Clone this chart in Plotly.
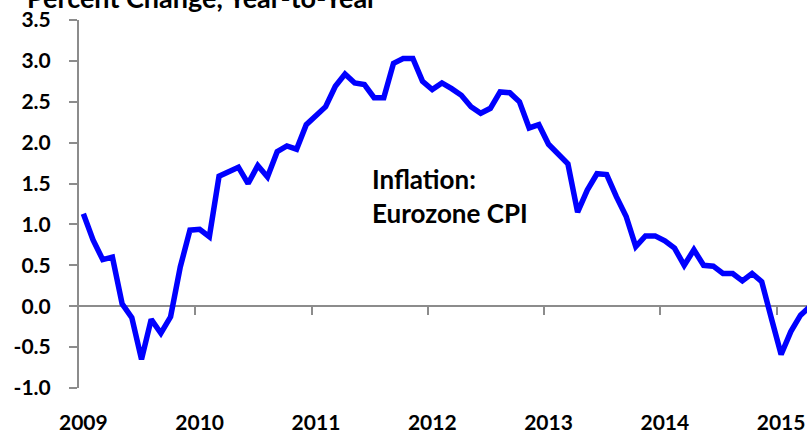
import plotly.graph_objects as go

# Eurozone CPI inflation, percent change year-to-year, monthly from Jan 2009
start_year = 2009
cpi_values = [
    1.13, 0.81, 0.57, 0.60, 0.03, -0.14, -0.65, -0.16, -0.33, -0.13, 0.48, 0.93,
    0.94, 0.85, 1.59, 1.64, 1.70, 1.50, 1.72, 1.58, 1.89, 1.96, 1.92, 2.22,
    2.33, 2.44, 2.69, 2.84, 2.73, 2.71, 2.55, 2.55, 2.97, 3.03, 3.03, 2.75,
    2.65, 2.73, 2.66, 2.58, 2.44, 2.36, 2.42, 2.62, 2.61, 2.50, 2.18, 2.22,
    1.98, 1.85, 1.74, 1.15, 1.42, 1.62, 1.61, 1.34, 1.10, 0.73, 0.86, 0.86,
    0.80, 0.71, 0.50, 0.69, 0.50, 0.49, 0.40, 0.40, 0.31, 0.40, 0.30, -0.15,
    -0.59, -0.31, -0.11, 0.0,
]
year_labels = ["2009", "2010", "2011", "2012", "2013", "2014", "2015"]
y_tick_values = [-1.0, -0.5, 0.0, 0.5, 1.0, 1.5, 2.0, 2.5, 3.0, 3.5]
y_tick_labels = ["-1.0", "-0.5", "0.0", "0.5", "1.0", "1.5", "2.0", "2.5", "3.0", "3.5"]
title_text = "Percent Change, Year-to-Year"
annotation_text = "Inflation:<br>Eurozone CPI"

mid = 0.45 / 12.0
x_dates = [start_year + mid + i / 12.0 for i in range(len(cpi_values))]
year_ticks = [start_year + k for k in range(1, len(year_labels))]
label_pos = [start_year + mid + k for k in range(len(year_labels))]

AXIS_GRAY = "#8c8c8c"
FONT = dict(family="Lato", size=21, color="black", weight="bold")
x_range = [2009.0, 2015.26]

fig = go.Figure()
fig.add_trace(go.Scatter(
    x=x_dates, y=cpi_values, mode="lines",
    line=dict(color="#0000FF", width=5.5),
    hoverinfo="skip", showlegend=False,
))
# invisible helper so the label axis is rendered
fig.add_trace(go.Scatter(x=[None], y=[None], xaxis="x2", yaxis="y",
                         mode="lines", showlegend=False, hoverinfo="skip"))

fig.update_layout(
    width=807, height=434,
    margin=dict(l=79, r=0, t=20, b=46, autoexpand=False),
    paper_bgcolor="white", plot_bgcolor="white",
    showlegend=False,
    title=dict(
        text=title_text,
        font=dict(family="Lato", size=27, color="black", weight="bold"),
        xref="container", x=27 / 807, xanchor="left",
        yref="container", y=1 - 8 / 434, yanchor="bottom",
        pad=dict(t=0, b=0, l=0, r=0), automargin=False,
    ),
    xaxis=dict(
        range=x_range, anchor="free", position=1 / 4.5,
        showgrid=False, zeroline=False, showline=False,
        tickmode="array", tickvals=year_ticks,
        ticks="outside", ticklen=8, tickwidth=2, tickcolor=AXIS_GRAY,
        showticklabels=False, automargin=False,
    ),
    xaxis2=dict(
        range=x_range, overlaying="x", anchor="y", side="bottom",
        showgrid=False, zeroline=False, showline=False, ticks="",
        tickmode="array", tickvals=label_pos, ticktext=year_labels,
        tickfont=FONT, ticklabelstandoff=20, automargin=False,
    ),
    yaxis=dict(
        range=[-1.0, 3.5], showgrid=False,
        zeroline=True, zerolinecolor=AXIS_GRAY, zerolinewidth=2,
        showline=True, linecolor=AXIS_GRAY, linewidth=2,
        tickmode="array", tickvals=y_tick_values, ticktext=y_tick_labels,
        ticks="outside", ticklen=8, tickwidth=2, tickcolor=AXIS_GRAY,
        tickfont=FONT, ticklabelstandoff=14, automargin=False,
    ),
    annotations=[dict(
        text=annotation_text, xref="paper", yref="y",
        x=(369.5 - 79) / 728, y=1.35, xanchor="left", yanchor="middle",
        align="left", showarrow=False,
        font=dict(family="Lato", size=26, color="black", weight="bold"),
    )],
)

fig.write_html("out.html", config={"displayModeBar": False},
               post_script="document.body.style.margin='0';")
